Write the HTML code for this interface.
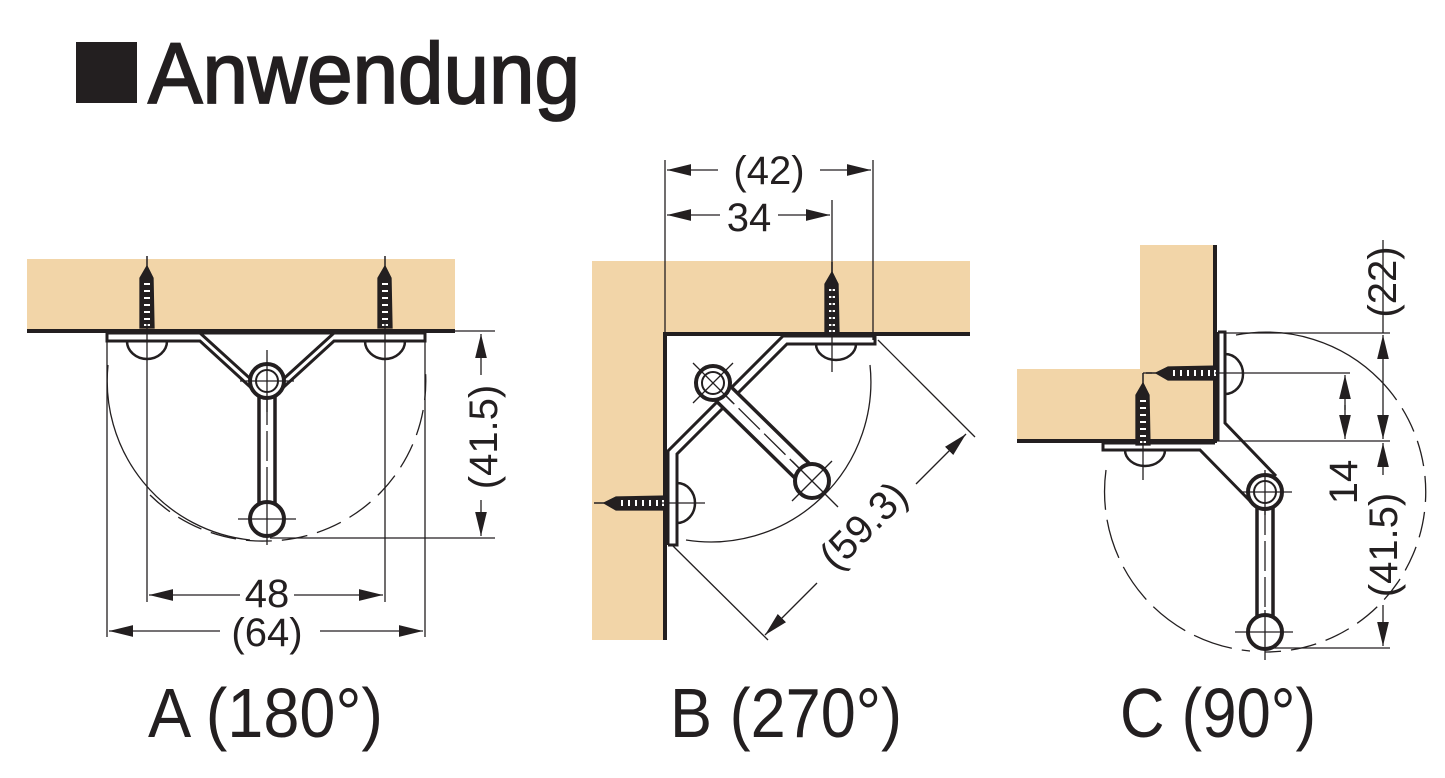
<!DOCTYPE html>
<html><head><meta charset="utf-8"><style>
html,body{margin:0;padding:0;background:#fff}
svg{display:block}
text{font-family:"Liberation Sans",sans-serif;fill:#231f20}
</style></head><body>
<svg width="1445" height="778" viewBox="0 0 1445 778" xmlns="http://www.w3.org/2000/svg">
<defs>
<marker id="ar" viewBox="0 0 10 10" refX="10" refY="5" markerWidth="24" markerHeight="13" markerUnits="userSpaceOnUse" orient="auto-start-reverse" preserveAspectRatio="none"><path d="M0,0.5 L10,5 L0,9.5 Z" fill="#231f20"/></marker>
<g id="screw">
<line x1="0" y1="-6" x2="0" y2="6" stroke="#231f20" stroke-width="1.5"/>
<path d="M0,4 L6,16 L7,66 L-7,66 L-7,16 Z" fill="#231f20"/>
<g stroke="#fff" stroke-width="2">
<line x1="-3" y1="22" x2="3" y2="22"/><line x1="-3" y1="29" x2="3" y2="29"/><line x1="-3" y1="36" x2="3" y2="36"/><line x1="-3" y1="43" x2="3" y2="43"/><line x1="-3" y1="50" x2="3" y2="50"/><line x1="-3" y1="57" x2="3" y2="57"/><line x1="-3" y1="63" x2="3" y2="63"/>
</g>
</g>
<g id="pivot">
<circle r="17" fill="#fff" stroke="#231f20" stroke-width="4"/>
<circle r="11" fill="none" stroke="#231f20" stroke-width="2"/>
</g>
</defs>

<!-- Title -->
<rect x="76" y="42" width="61" height="61" fill="#231f20"/>
<text x="148" y="103" font-size="86" textLength="432" lengthAdjust="spacingAndGlyphs" stroke="#231f20" stroke-width="1.8">Anwendung</text>

<g fill="none" stroke="#231f20" stroke-width="1.3">
<!-- ===== A ===== -->
<rect x="27" y="259" width="428" height="72" fill="#f2d5a8" stroke="none"/>
<line x1="27" y1="331" x2="455" y2="331" stroke-width="4"/>
<path d="M107,333 L107,341 L200,341 L259,395 M425,333 L425,341 L334,341 L275,395 M107,333 L425,333 M200,333 L255,383 M334,333 L279,383" stroke-width="3"/>
<path d="M127,341 A20,18 0 0 0 167,341 M365,341 A20,18 0 0 0 405,341" stroke-width="2.5"/>
<use href="#screw" x="147" y="262"/>
<use href="#screw" x="385" y="262"/>
<rect x="259" y="395" width="16" height="110" fill="#fff" stroke-width="3.5"/>
<line x1="267" y1="395" x2="267" y2="505" stroke-dasharray="30 6"/>
<use href="#pivot" x="267" y="381"/>
<circle cx="267" cy="519" r="17" fill="#fff" stroke-width="4"/>
<line x1="267" y1="350" x2="267" y2="412"/><line x1="240" y1="381" x2="294" y2="381"/>
<line x1="267" y1="497" x2="267" y2="545"/><line x1="238" y1="519" x2="296" y2="519"/>
<path d="M108,365 A160,160 0 0 0 250,540" />
<path d="M150,495 A160,160 0 0 0 267,541 A160,160 0 0 0 425,365" stroke-dasharray="26 10"/>
<line x1="107" y1="342" x2="107" y2="637"/><line x1="425" y1="342" x2="425" y2="637"/>
<line x1="147" y1="320" x2="147" y2="602"/><line x1="385" y1="320" x2="385" y2="602"/>
<line x1="425" y1="331" x2="495" y2="331"/><line x1="270" y1="538" x2="495" y2="538"/>
<line x1="149" y1="595" x2="240" y2="595" marker-start="url(#ar)"/><line x1="294" y1="595" x2="383" y2="595" marker-end="url(#ar)"/>
<line x1="109" y1="631" x2="220" y2="631" marker-start="url(#ar)"/><line x1="320" y1="631" x2="423" y2="631" marker-end="url(#ar)"/>
<line x1="481" y1="334" x2="481" y2="375" marker-start="url(#ar)"/><line x1="481" y1="500" x2="481" y2="536" marker-end="url(#ar)"/>

<!-- ===== B ===== -->
<path d="M592,261 L970,261 L970,333 L665,333 L665,640 L592,640 Z" fill="#f2d5a8" stroke="none"/>
<path d="M970,334 L665,334 L665,640" stroke-width="4"/>
<path d="M875,336 L783,336 L668,451 L668,545 M875,336 L875,344 L787,344 L677,454 L677,545 L668,545" stroke-width="3"/>
<path d="M816,344 A20,16 0 0 0 856,344 M677,483 A18,20 0 0 1 677,523" stroke-width="2.5"/>
<use href="#screw" x="832" y="268"/>
<use href="#screw" transform="translate(600,503) rotate(-90)"/>
<line x1="832" y1="200" x2="832" y2="372"/>
<line x1="660" y1="503" x2="705" y2="503"/>
<path d="M705,390 L720,376 L820,474 L805,488 Z" fill="#fff" stroke-width="3.5"/>
<line x1="713" y1="383" x2="812" y2="481" stroke-dasharray="30 6"/>
<use href="#pivot" x="713" y="383"/>
<circle cx="812" cy="481" r="17" fill="#fff" stroke-width="4"/>
<line x1="693" y1="363" x2="733" y2="403"/><line x1="733" y1="363" x2="693" y2="403"/>
<line x1="792" y1="461" x2="838" y2="507"/><line x1="832" y1="461" x2="792" y2="501"/>
<path d="M870,365 A160,160 0 0 1 686,540"/>
<line x1="665" y1="160" x2="665" y2="334"/><line x1="873" y1="160" x2="873" y2="340"/>
<line x1="667" y1="170" x2="718" y2="170" marker-start="url(#ar)"/><line x1="820" y1="170" x2="871" y2="170" marker-end="url(#ar)"/>
<line x1="667" y1="215" x2="720" y2="215" marker-start="url(#ar)"/><line x1="778" y1="215" x2="830" y2="215" marker-end="url(#ar)"/>
<line x1="878" y1="340" x2="975" y2="437"/><line x1="672" y1="545" x2="768" y2="640"/>
<line x1="966" y1="434" x2="916" y2="484" marker-start="url(#ar)"/><line x1="817" y1="583" x2="765" y2="635" marker-end="url(#ar)"/>

<!-- ===== C ===== -->
<path d="M1140,245 L1215,245 L1215,440 L1017,440 L1017,369 L1140,369 Z" fill="#f2d5a8" stroke="none"/>
<path d="M1215,245 L1215,441 L1017,441" stroke-width="4"/>
<path d="M1218,332 L1225,332 L1225,423 L1276,476 M1218,332 L1218,441 M1103,443 L1103,450 L1200,450 L1252,503 M1103,443 L1215,443" stroke-width="3"/>
<path d="M1225,354 A18,20 0 0 1 1225,394 M1125,450 A20,16 0 0 0 1165,450" stroke-width="2.5"/>
<use href="#screw" transform="translate(1152,373) rotate(-90)"/>
<use href="#screw" x="1143" y="379"/>
<line x1="1143" y1="373" x2="1152" y2="373"/>
<line x1="1143" y1="440" x2="1143" y2="480"/>
<line x1="1215" y1="373" x2="1350" y2="373"/>
<line x1="1225" y1="333" x2="1390" y2="333"/>
<line x1="1215" y1="441" x2="1390" y2="441"/>
<line x1="1270" y1="648" x2="1390" y2="648"/>
<rect x="1257" y="505" width="16" height="112" fill="#fff" stroke-width="3.5"/>
<line x1="1265" y1="505" x2="1265" y2="617" stroke-dasharray="30 6"/>
<use href="#pivot" x="1265" y="492"/>
<circle cx="1265" cy="632" r="17" fill="#fff" stroke-width="4"/>
<line x1="1240" y1="492" x2="1292" y2="492"/><line x1="1265" y1="470" x2="1265" y2="515"/>
<line x1="1235" y1="632" x2="1293" y2="632"/><line x1="1265" y1="610" x2="1265" y2="660"/>
<path d="M1236,335 A160,160 0 0 1 1380,380"/>
<path d="M1380,380 A160,160 0 0 1 1265,652" stroke-dasharray="26 10"/>
<path d="M1106,470 A160,160 0 0 0 1250,651" stroke-dasharray="40 10"/>
<line x1="1345" y1="375" x2="1345" y2="410" marker-start="url(#ar)"/><line x1="1345" y1="405" x2="1345" y2="439" marker-end="url(#ar)"/>
<line x1="1383" y1="335" x2="1383" y2="385" marker-start="url(#ar)"/><line x1="1383" y1="385" x2="1383" y2="439" marker-end="url(#ar)"/>
<line x1="1383" y1="443" x2="1383" y2="475" marker-start="url(#ar)"/><line x1="1383" y1="605" x2="1383" y2="646" marker-end="url(#ar)"/>
<line x1="1383" y1="240" x2="1383" y2="333"/>
</g>

<!-- dimension texts -->
<g font-size="40">
<rect x="240" y="578" width="54" height="32" fill="#fff"/>
<text x="267" y="607" text-anchor="middle">48</text>
<text x="267" y="646" text-anchor="middle">(64)</text>
<text x="769" y="184" text-anchor="middle">(42)</text>
<text x="749" y="231" text-anchor="middle">34</text>
<text transform="translate(497,437) rotate(-90)" text-anchor="middle">(41.5)</text>
<text transform="translate(873,535) rotate(-45)" text-anchor="middle">(59.3)</text>
<text transform="translate(1396,282) rotate(-90)" text-anchor="middle">(22)</text>
<text transform="translate(1357,482) rotate(-90)" text-anchor="middle">14</text>
<text transform="translate(1397,545) rotate(-90)" text-anchor="middle">(41.5)</text>
</g>

<g font-size="70">
<text x="148" y="737" textLength="235" lengthAdjust="spacingAndGlyphs">A (180°)</text>
<text x="670" y="737" textLength="232" lengthAdjust="spacingAndGlyphs">B (270°)</text>
<text x="1120" y="737" textLength="196" lengthAdjust="spacingAndGlyphs">C (90°)</text>
</g>
</svg>
</body></html>
